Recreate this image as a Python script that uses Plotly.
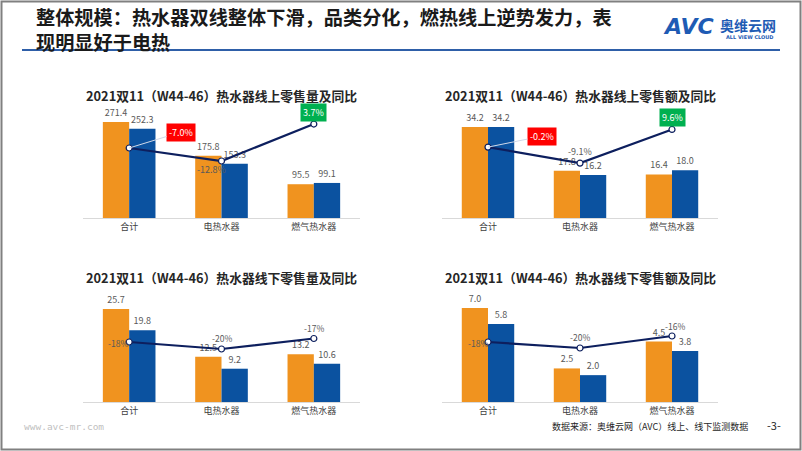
import plotly.graph_objects as go

W, H = 802, 451

categories = ["合计", "电热水器", "燃气热水器"]

# Panel 1: online volume
p1_title = "2021双11（W44-46）热水器线上零售量及同比"
p1_2020 = [271.4, 175.8, 95.5]
p1_2021 = [252.3, 153.3, 99.1]
p1_yoy = [-7.0, -12.8, 3.7]
p1_yoy_txt = ["-7.0%", "-12.8%", "3.7%"]

# Panel 2: online value
p2_title = "2021双11（W44-46）热水器线上零售额及同比"
p2_2020 = [34.2, 17.8, 16.4]
p2_2021 = [34.2, 16.2, 18.0]
p2_yoy = [-0.2, -9.1, 9.6]
p2_yoy_txt = ["-0.2%", "-9.1%", "9.6%"]

# Panel 3: offline volume
p3_title = "2021双11（W44-46）热水器线下零售量及同比"
p3_2020 = [25.7, 12.5, 13.2]
p3_2021 = [19.8, 9.2, 10.6]
p3_yoy = [-18, -20, -17]
p3_yoy_txt = ["-18%", "-20%", "-17%"]

# Panel 4: offline value
p4_title = "2021双11（W44-46）热水器线下零售额及同比"
p4_2020 = [7.0, 2.5, 4.5]
p4_2021 = [5.8, 2.0, 3.8]
p4_yoy = [-18, -20, -16]
p4_yoy_txt = ["-18%", "-20%", "-16%"]

ORANGE = "#F0931F"
BLUE = "#0B52A0"
NAVY = "#0D1F5E"
LBL = "#595959"
FONT = "Noto Sans CJK SC"

def px(x):
    return x / W

def py(y):
    return 1 - y / H

# panel geometry (pixels) and axis ranges
panels = [
    dict(title=p1_title, a=p1_2020, b=p1_2021, yoy=p1_yoy, txt=p1_yoy_txt,
         x0=83, x1=360, ytop=105, ybot=218, r1=[0, 319.5], r2=[-38.25, 12.2], ty=95),
    dict(title=p2_title, a=p2_2020, b=p2_2021, yoy=p2_yoy, txt=p2_yoy_txt,
         x0=442, x1=718, ytop=105, ybot=218, r1=[0, 42.5], r2=[-39.6, 23.2], ty=95),
    dict(title=p3_title, a=p3_2020, b=p3_2021, yoy=p3_yoy, txt=p3_yoy_txt,
         x0=83, x1=360, ytop=290, ybot=402, r1=[0, 30.95], r2=[-35.14, -3.14], ty=277),
    dict(title=p4_title, a=p4_2020, b=p4_2021, yoy=p4_yoy, txt=p4_yoy_txt,
         x0=442, x1=718, ytop=290, ybot=402, r1=[0, 8.34], r2=[-38.0, -0.67], ty=277),
]

fig = go.Figure()
layout = dict(
    width=W, height=H, margin=dict(l=0, r=0, t=0, b=0),
    paper_bgcolor="white", plot_bgcolor="white",
    showlegend=False, barmode="group", bargap=0.43, bargroupgap=0,
    font=dict(family=FONT, color=LBL, size=9),
)
annotations = []
shapes = []

for i, p in enumerate(panels):
    n = i + 1
    xa = f"x{n}" if n > 1 else "x"
    ya = f"y{2*n-1}" if n > 1 else "y"
    yb = f"y{2*n}"
    xname = f"xaxis{n}" if n > 1 else "xaxis"
    yname = f"yaxis{2*n-1}" if n > 1 else "yaxis"
    y2name = f"yaxis{2*n}"
    fig.add_trace(go.Bar(x=categories, y=p["a"], marker_color=ORANGE, xaxis=xa, yaxis=ya,
                         text=[f"{v:.1f}" for v in p["a"]], textposition="outside",
                         textfont=dict(size=9, color=LBL), cliponaxis=False,
                         offsetgroup=f"a{n}", marker_line_width=0))
    fig.add_trace(go.Bar(x=categories, y=p["b"], marker_color=BLUE, xaxis=xa, yaxis=ya,
                         text=[f"{v:.1f}" for v in p["b"]], textposition="outside",
                         textfont=dict(size=9, color=LBL), cliponaxis=False,
                         offsetgroup=f"b{n}", marker_line_width=0))
    fig.add_trace(go.Scatter(x=categories, y=p["yoy"], mode="lines+markers", xaxis=xa, yaxis=yb,
                             line=dict(color=NAVY, width=2.2), cliponaxis=False,
                             marker=dict(symbol="circle", size=6, color="white",
                                         line=dict(color=NAVY, width=1.2))))
    dom_x = [px(p["x0"]), px(p["x1"])]
    dom_y = [py(p["ybot"]), py(p["ytop"])]
    layout[xname] = dict(domain=dom_x, anchor=ya, showgrid=False, zeroline=False,
                         showline=True, linecolor="#D9D9D9", linewidth=1, ticks="",
                         tickfont=dict(size=9, color="#404040", family=FONT), fixedrange=True)
    layout[yname] = dict(domain=dom_y, anchor=xa, range=p["r1"], visible=False,
                         showgrid=False, zeroline=False, fixedrange=True)
    layout[y2name] = dict(domain=dom_y, anchor=xa, overlaying=ya, side="right",
                          range=p["r2"], visible=False, showgrid=False, zeroline=False,
                          fixedrange=True)
    # panel title
    annotations.append(dict(text=f"<b>{p['title']}</b>", xref="paper", yref="paper",
                            x=(dom_x[0] + dom_x[1]) / 2, y=py(p["ty"]),
                            showarrow=False, font=dict(size=12.8, color="#262626", family=FONT),
                            xanchor="center", yanchor="middle"))

    # yoy labels
    if n in (1, 2):
        annotations.append(dict(text=p["txt"][0], x=categories[0], y=p["yoy"][0],
                                xref=xa, yref=yb, showarrow=True, arrowhead=0,
                                arrowcolor="#D0D8E8", arrowwidth=1,
                                ax=52 if n == 1 else 54, ay=-16 if n == 1 else -11,
                                bgcolor="#FF0000", font=dict(color="white", size=9, family=FONT),
                                borderpad=2, standoff=0))
        annotations.append(dict(text=p["txt"][1], x=categories[1], y=p["yoy"][1],
                                xref=xa, yref=yb, showarrow=False,
                                xshift=-10 if n == 1 else 0, yshift=-8 if n == 1 else 12,
                                font=dict(color=LBL, size=9, family=FONT)))
        annotations.append(dict(text=p["txt"][2], x=categories[2], y=p["yoy"][2],
                                xref=xa, yref=yb, showarrow=False, yshift=12,
                                bgcolor="#00B050", font=dict(color="white", size=9, family=FONT),
                                borderpad=2))
    else:
        annotations.append(dict(text=p["txt"][0], x=categories[0], y=p["yoy"][0],
                                xref=xa, yref=yb, showarrow=False, xshift=-11 if n == 3 else -10,
                                yshift=-1, font=dict(color=LBL, size=8.5, family=FONT)))
        annotations.append(dict(text=p["txt"][1], x=categories[1], y=p["yoy"][1],
                                xref=xa, yref=yb, showarrow=False, yshift=11,
                                font=dict(color=LBL, size=8.5, family=FONT)))
        annotations.append(dict(text=p["txt"][2], x=categories[2], y=p["yoy"][2],
                                xref=xa, yref=yb, showarrow=False, yshift=11 if n == 3 else 10,
                                xshift=0 if n == 3 else 3,
                                font=dict(color=LBL, size=8.5, family=FONT)))

# page title (two lines in one text block)
annotations.append(dict(text="<b>整体规模：热水器双线整体下滑，品类分化，燃热线上逆势发力，表<br>现明显好于电热</b>",
                        xref="paper", yref="paper", x=px(34), y=py(29.5), xanchor="left",
                        yanchor="middle", align="left", showarrow=False,
                        font=dict(size=19.2, color="#1a1a1a", family=FONT)))
# logo
annotations.append(dict(text="<b><i>AVC</i></b>", xref="paper", yref="paper", x=px(688), y=py(27),
                        xanchor="center", yanchor="middle", showarrow=False,
                        font=dict(size=22, color="#1E5BB4", family="DejaVu Sans")))
annotations.append(dict(text="<b>奥维云网</b>", xref="paper", yref="paper", x=px(748), y=py(25),
                        xanchor="center", yanchor="middle", showarrow=False,
                        font=dict(size=14, color="#1E5BB4", family=FONT)))
annotations.append(dict(text="<b>ALL VIEW CLOUD</b>", xref="paper", yref="paper", x=px(750), y=py(37),
                        xanchor="center", yanchor="middle", showarrow=False,
                        font=dict(size=5, color="#1E5BB4", family="DejaVu Sans")))
# footer
annotations.append(dict(text="www.avc-mr.com", xref="paper", yref="paper", x=px(22), y=py(426),
                        xanchor="left", yanchor="middle", showarrow=False,
                        font=dict(size=9.5, color="#BFBFBF", family="DejaVu Sans Mono")))
annotations.append(dict(text="数据来源：奥维云网（AVC）线上、线下监测数据", xref="paper", yref="paper",
                        x=px(750), y=py(426), xanchor="right", yanchor="middle", showarrow=False,
                        font=dict(size=9, color="#262626", family=FONT)))
annotations.append(dict(text="-3-", xref="paper", yref="paper", x=px(774), y=py(425),
                        xanchor="center", yanchor="middle", showarrow=False,
                        font=dict(size=11, color="#262626", family=FONT)))

# title underline and page frame
shapes.append(dict(type="line", xref="paper", yref="paper", x0=px(22), x1=px(780),
                   y0=py(50), y1=py(50), line=dict(color="#2E5FA8", width=2)))
shapes.append(dict(type="rect", xref="paper", yref="paper", x0=px(1.5), x1=px(800.5),
                   y0=py(449.5), y1=py(1.5), line=dict(color="#808080", width=2)))

layout["annotations"] = annotations
layout["shapes"] = shapes
fig.update_layout(**layout)
fig.write_html("out.html", config={"displayModeBar": False},
               post_script="document.body.style.margin='0';document.body.style.padding='0';"
                           "document.body.style.overflow='hidden';")
